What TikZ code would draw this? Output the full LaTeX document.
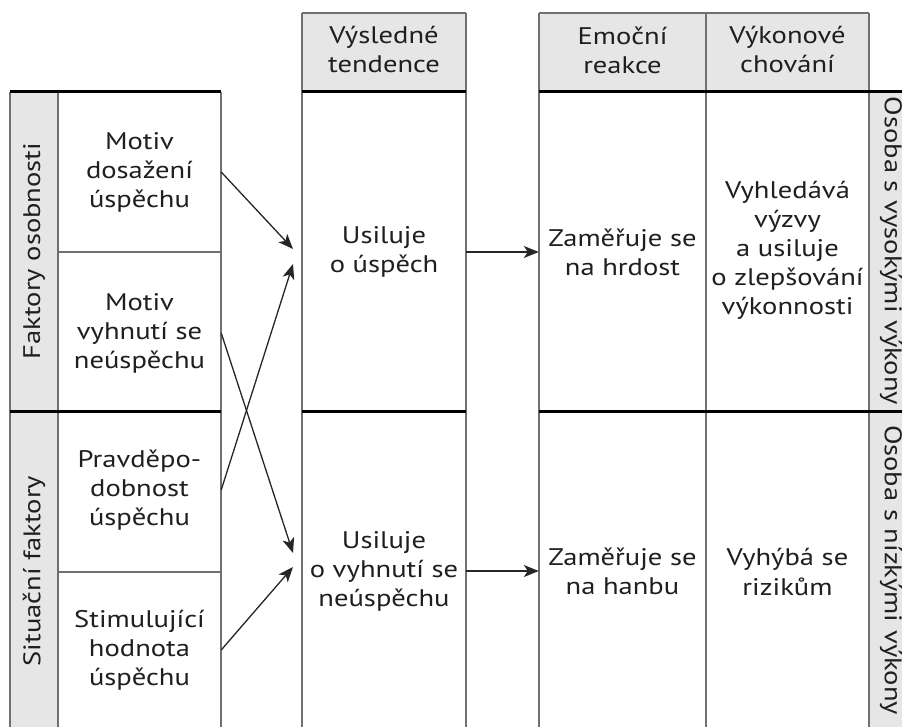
\documentclass[tikz,border=0pt]{standalone}
\usepackage{fontspec}
\setmainfont{PT Sans}[FakeStretch=1.19]
\usetikzlibrary{arrows.meta}
\definecolor{hdr}{HTML}{E6E6E6}
\definecolor{rulegray}{HTML}{707070}
\tikzset{
  thinrule/.style={draw=rulegray, line width=1.3pt},
  thickrule/.style={draw=black, line width=3pt},
  cell/.style={inner sep=0pt, align=center, font=\fontsize{24}{29}\selectfont, text=black!88},
  arr/.style={-{Stealth[length=15pt,width=12pt,inset=4pt]}, line width=1.3pt, draw=black!85},
}
\begin{document}
\begin{tikzpicture}[x=1pt,y=-1pt]
\clip (0,0) rectangle (902,727);
\fill[white] (0,0) rectangle (902,727);
% fills
\fill[hdr] (10,92) rectangle (58,727);
\fill[hdr] (869,92) rectangle (902,727);
\fill[hdr] (302,13) rectangle (466,92);
\fill[hdr] (539,13) rectangle (869,92);
% thin lines
\draw[thinrule] (10,92) -- (10,727);
\draw[thinrule] (58,92) -- (58,727);
\draw[thinrule] (221,92) -- (221,727);
\draw[thinrule] (302,13) -- (302,727);
\draw[thinrule] (466,13) -- (466,727);
\draw[thinrule] (539,13) -- (539,727);
\draw[thinrule] (706,13) -- (706,727);
\draw[thinrule] (869,13) -- (869,727);
\draw[thinrule] (302,13) -- (466,13);
\draw[thinrule] (539,13) -- (869,13);
\draw[thinrule] (58,252) -- (221,252);
\draw[thinrule] (58,572) -- (221,572);
% thick lines
\draw[thickrule] (10,92) -- (221,92);
\draw[thickrule] (302,92) -- (466,92);
\draw[thickrule] (539,92) -- (902,92);
\draw[thickrule] (10,411) -- (221,411);
\draw[thickrule] (302,411) -- (466,411);
\draw[thickrule] (539,411) -- (902,411);
% headers
\node[cell] (hv) at (384,50) {Výsledné\\tendence};
\node[cell] (he) at (622.5,50) {Emoční\\reakce};
\node[cell] (hk) at (787.5,50) {Výkonové\\chování};
% side labels
\node[cell, rotate=90] (lf) at (34,251) {Faktory osobnosti};
\node[cell, rotate=90] (ls) at (34,571) {Situační faktory};
\node[cell, rotate=-90] (rv) at (891,251) {Osoba s vysokými výkony};
\node[cell, rotate=-90] (rn) at (891,570) {Osoba s nízkými výkony};
% left cells
\node[cell, minimum width=163pt, minimum height=160pt] (m1) at (139.5,172) {Motiv\\dosažení\\úspěchu};
\node[cell, minimum width=163pt, minimum height=159pt] (m2) at (139.5,333) {Motiv\\vyhnutí se\\neúspěchu};
\node[cell, minimum width=163pt, minimum height=161pt] (s1) at (139.5,490) {Pravděpo-\\dobnost\\úspěchu};
\node[cell, minimum width=163pt, minimum height=155pt] (s2) at (139.5,650) {Stimulující\\hodnota\\úspěchu};
% middle cells
\node[cell, minimum width=164pt, minimum height=319pt] (u1) at (384,252) {Usiluje\\o úspěch};
\node[cell, minimum width=164pt, minimum height=316pt] (u2) at (384,571) {Usiluje\\o vyhnutí se\\neúspěchu};
% right cells
\node[cell, minimum width=167pt, minimum height=319pt] (e1) at (622.5,252) {Zaměřuje se\\na hrdost};
\node[cell] (k1) at (787.5,250) {Vyhledává\\výzvy\\a usiluje\\o zlepšování\\výkonnosti};
\node[cell, minimum width=167pt, minimum height=316pt] (e2) at (622.5,571) {Zaměřuje se\\na hanbu};
\node[cell] (k2) at (787.5,572) {Vyhýbá se\\rizikům};
% arrow tips
\coordinate (t1a) at (293,249);
\coordinate (t1b) at (293,264);
\coordinate (t2a) at (293,553);
\coordinate (t2b) at (293,567);
\draw[arr] (m1.east) -- (t1a);
\draw[arr] (s1.east) -- (t1b);
\draw[arr] (m2.east) -- (t2a);
\draw[arr] (s2.east) -- (t2b);
\draw[arr] (u1.east) -- (e1.west);
\draw[arr] (u2.east) -- (e2.west);
\end{tikzpicture}
\end{document}
